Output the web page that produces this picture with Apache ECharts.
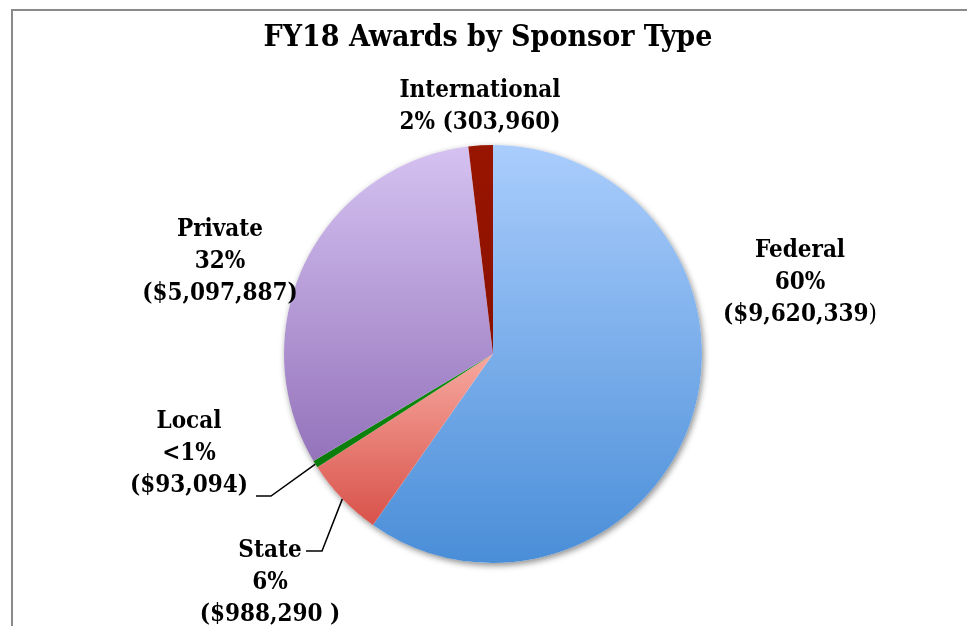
<!DOCTYPE html>
<html><head><meta charset="utf-8">
<script src="https://cdn.jsdelivr.net/npm/echarts@6/dist/echarts.min.js"></script>
<style>html,body{margin:0;padding:0;background:#fff}#c{width:967px;height:626px}</style>
</head><body><div id="c"></div>
<script>
// ---- data ----
const categories = ['Federal', 'State', 'Local', 'Private', 'International'];
const amounts = [9620339, 988290, 93094, 5097887, 303960];
const percentLabels = ['60%', '6%', '<1%', '32%', '2%'];
const amountLabels = ['($9,620,339)', '($988,290 )', '($93,094)', '($5,097,887)', '(303,960)'];

// ---- styles ----
const gradients = [
  ['#aacdfc', '#4a8ed8'],
  ['#f7a9a0', '#d8524a'],
  ['#0e8f0e', '#0a7a0a'],
  ['#d5c2f1', '#9473bb'],
  ['#981500', '#8a1000']
];
const FONT = "'DejaVu Serif Condensed', 'DejaVu Serif', serif";
const FS = 24, LH = 32;

// label layout (center x, top y) and guide-line settings
const labelPlace = {
  Federal: { x: 800, y: 235 },
  State: { x: 270, y: 535, line: { elbowX: 322, endX: 306, lineY: 551 } },
  Local: { x: 189, y: 406, line: { elbowX: 271, endX: 256, lineY: 496 } },
  Private: { x: 220, y: 214 },
  International: { x: 480, y: 75 }
};

function labelText(i) {
  const name = categories[i];
  if (name === 'International') {
    return name + '\n' + percentLabels[i] + ' ' + amountLabels[i];
  }
  let amt = amountLabels[i];
  if (name === 'Federal') {
    // closing parenthesis is set in regular weight in the original
    amt = amt.slice(0, -1) + '{n|)}';
  }
  return name + '\n' + percentLabels[i] + '\n' + amt;
}

const total = amounts.reduce((a, b) => a + b, 0);

const pieData = categories.map((name, i) => ({
  name: name,
  value: amounts[i],
  itemStyle: {
    color: {
      type: 'linear', x: 0, y: 0, x2: 0, y2: 1,
      colorStops: [{ offset: 0, color: gradients[i][0] }, { offset: 1, color: gradients[i][1] }]
    }
  },
  labelLine: { show: !!labelPlace[name].line }
}));

const chart = echarts.init(document.getElementById('c'), null, { renderer: 'canvas' });
chart.setOption({
  backgroundColor: '#fff',
  animation: false,
  title: {
    text: 'FY18 Awards by Sponsor Type',
    left: 483, top: 18, textAlign: 'center',
    textStyle: { fontFamily: FONT, fontWeight: 'bold', fontSize: 30, color: '#000' }
  },
  graphic: [{
    type: 'rect', z: -10,
    shape: { x: 12, y: 10, width: 1000, height: 700 },
    style: { fill: 'none', stroke: '#8a8a8a', lineWidth: 2 }
  }],
  series: [
    {
      type: 'pie', silent: true, z: 1,
      center: [493, 354], radius: 209,
      label: { show: false }, labelLine: { show: false },
      itemStyle: { color: '#ffffff', shadowBlur: 6, shadowOffsetX: 1.5, shadowOffsetY: 2.5, shadowColor: 'rgba(0,0,0,0.45)' },
      data: [{ value: total, name: 'all' }]
    },
    {
      type: 'pie', z: 2,
      center: [493, 354], radius: 209,
      startAngle: 90, clockwise: true,
      avoidLabelOverlap: false,
      itemStyle: { borderWidth: 0 },
      label: {
        show: true, position: 'outside',
        formatter: p => labelText(p.dataIndex),
        fontFamily: FONT, fontWeight: 'bold', fontSize: FS, lineHeight: LH,
        color: '#000', align: 'center',
        rich: {
          n: { fontFamily: FONT, fontWeight: 'normal', fontSize: FS, lineHeight: LH, color: '#000' }
        }
      },
      labelLine: { lineStyle: { color: '#000', width: 1.5 }, length: 30, length2: 15 },
      labelLayout: function (params) {
        const name = categories[params.dataIndex];
        const pl = labelPlace[name];
        const out = { x: pl.x, y: pl.y, align: 'center', verticalAlign: 'top' };
        if (pl.line && params.labelLinePoints) {
          const p0 = params.labelLinePoints[0];
          out.labelLinePoints = [p0, [pl.line.elbowX, pl.line.lineY], [pl.line.endX, pl.line.lineY]];
        }
        return out;
      },
      data: pieData
    }
  ]
});
</script>
</body></html>
